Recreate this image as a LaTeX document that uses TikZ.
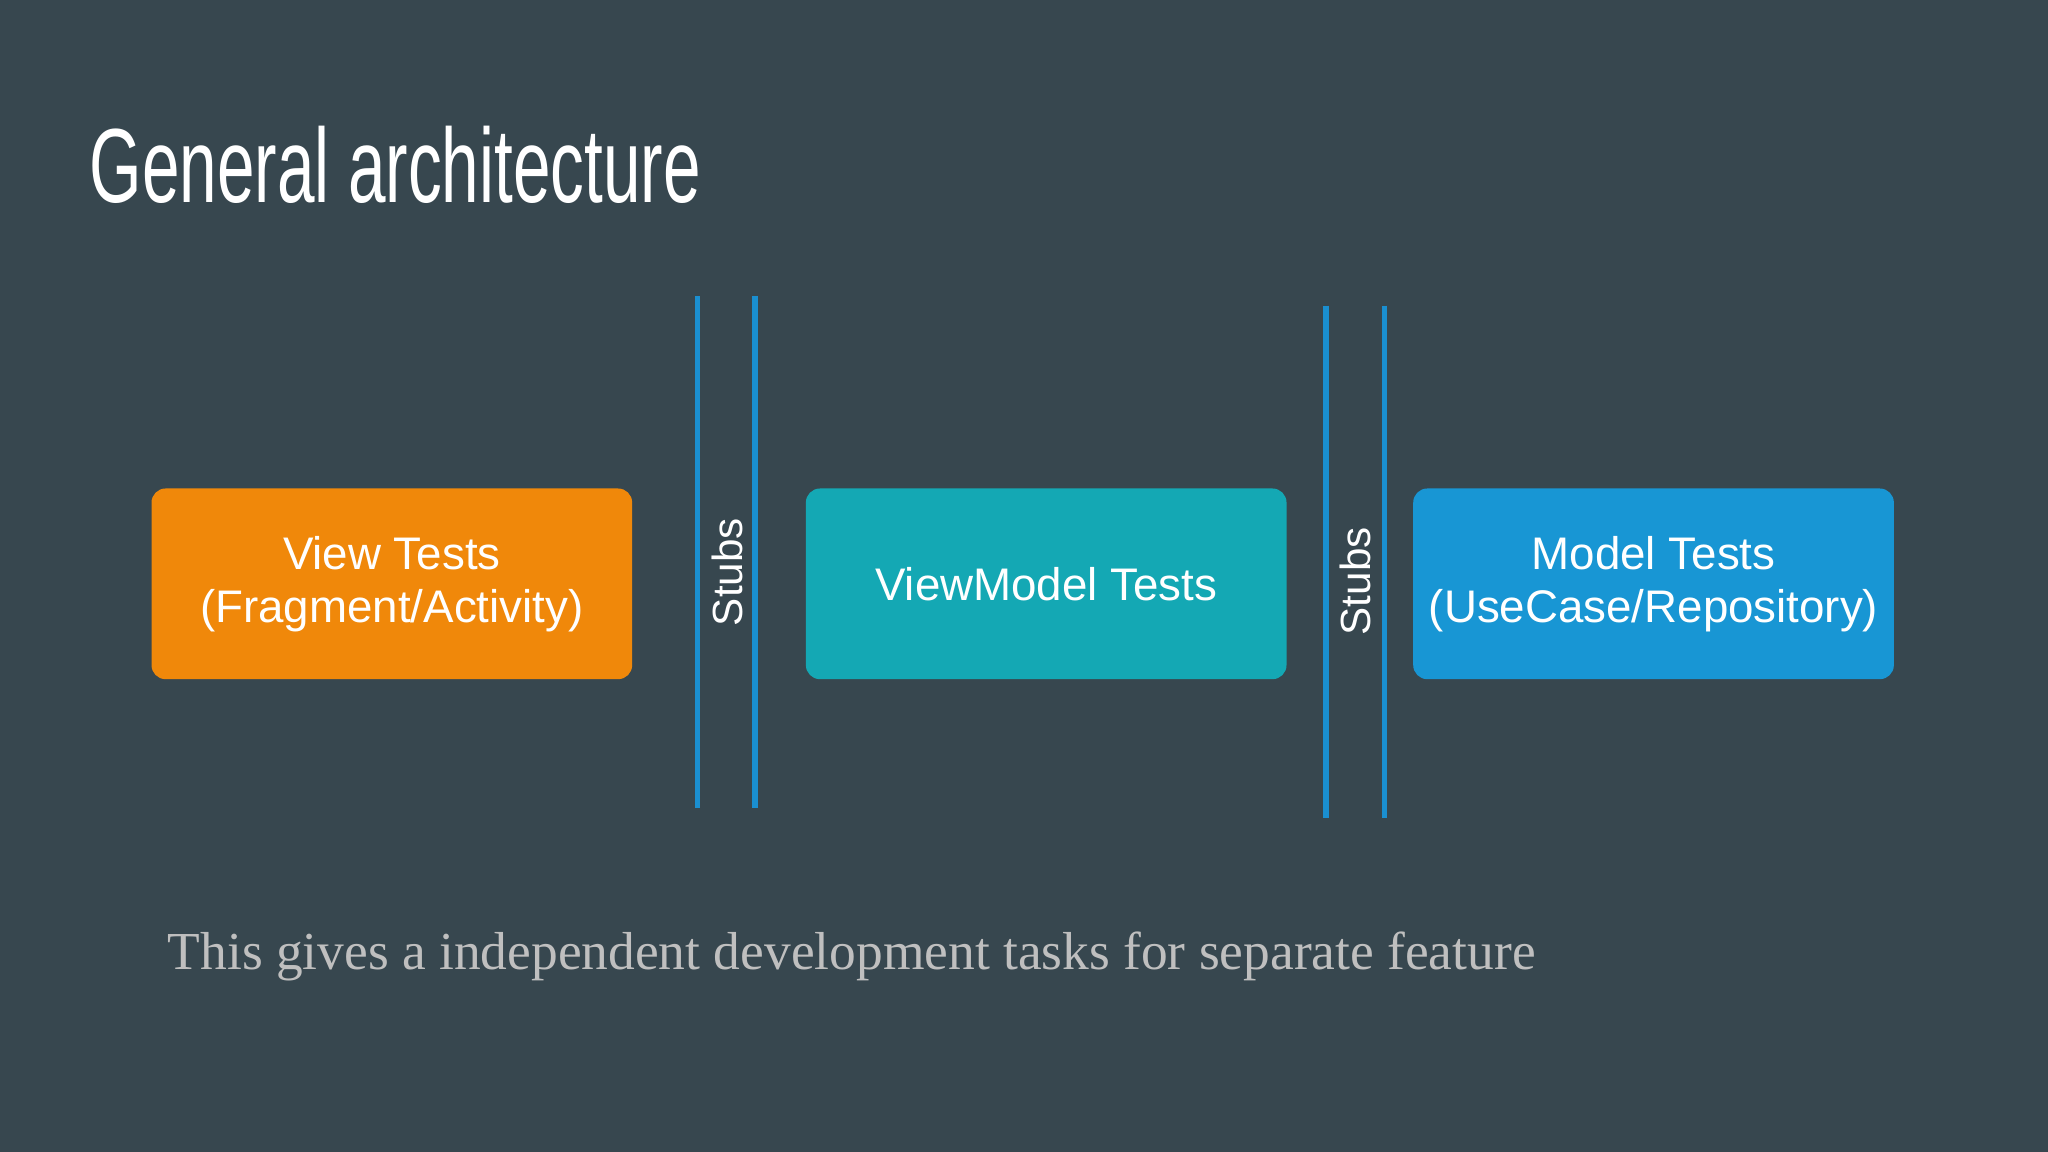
\documentclass[tikz,border=0pt]{standalone}
\usepackage{fontspec}
\setmainfont{Liberation Serif}
\newfontfamily\boxfont{Liberation Sans}
\usetikzlibrary{positioning}
\definecolor{slidebg}{HTML}{37474F}
\definecolor{vieworange}{HTML}{F0880A}
\definecolor{vmteal}{HTML}{14A8B4}
\definecolor{modelblue}{HTML}{1896D4}
\definecolor{stubline}{HTML}{1A8FD0}
\tikzset{
  layer/.style={rounded corners=4pt,minimum width=368*0.013061cm,minimum height=146*0.013061cm,
    text=white,align=center,font=\boxfont\fontsize{13}{15}\selectfont,inner sep=0pt},
  stub/.style={stubline,line width=1.6pt},
  stublabel/.style={rotate=90,text=white,font=\boxfont\fontsize{12}{14}\selectfont}
}
\begin{document}
\begin{tikzpicture}[x=0.013061cm,y=-0.013061cm]
  \fill[slidebg] (0,0) rectangle (1568,882);
  \useasboundingbox (0,0) rectangle (1568,882);

  \node[anchor=base west,text=white,inner sep=0pt] (title) at (68,155)
    {\scalebox{0.64}[1]{\boxfont\fontsize{30}{36}\selectfont General architecture}};

  \node[layer,fill=vieworange] (view) at (300,447) {View Tests\\(Fragment/Activity)};
  \node[layer,fill=vmteal] (vm) at (801,447) {ViewModel Tests};
  \node[layer,fill=modelblue] (model) at (1266,447) {Model Tests\\(UseCase/Repository)};

  \coordinate (s1a) at (534,227); \coordinate (s1b) at (534,619);
  \coordinate (s2a) at (578,227); \coordinate (s2b) at (578,619);
  \coordinate (s3a) at (1015,234); \coordinate (s3b) at (1015,626);
  \coordinate (s4a) at (1060,234); \coordinate (s4b) at (1060,626);
  \draw[stub] (s1a) -- (s1b);
  \draw[stub] (s2a) -- (s2b);
  \draw[stub] (s3a) -- (s3b);
  \draw[stub] (s4a) -- (s4b);
  \node[stublabel] (stubs1) at (557,438) {Stubs};
  \node[stublabel] (stubs2) at (1038,445) {Stubs};

  \node[anchor=base west,text=black!25,inner sep=0pt,font=\fontsize{15.2}{18}\selectfont] (note) at (128,742)
    {This gives a independent development tasks for separate feature};
\end{tikzpicture}
\end{document}
